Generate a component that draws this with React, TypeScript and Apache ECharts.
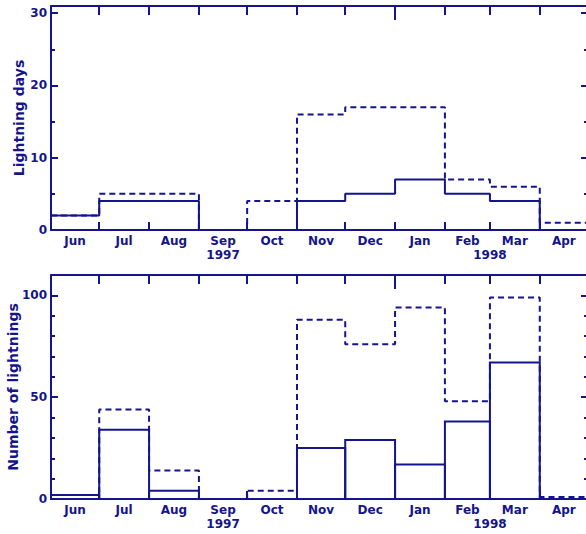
import React, { useEffect, useRef } from "react";
import * as echarts from "echarts";

// ---- data ----
const months = ["Jun", "Jul", "Aug", "Sep", "Oct", "Nov", "Dec", "Jan", "Feb", "Mar", "Apr"];
const monthDays = [30, 31, 31, 30, 31, 30, 31, 31, 28, 31, 30];
const daysSolid = [2, 4, 4, 0, 0, 4, 5, 7, 5, 4, 0];
const daysDashed = [2, 5, 5, 0, 4, 16, 17, 17, 7, 6, 1];
const countSolid = [2, 34, 4, 0, 0, 25, 29, 17, 38, 67, 0];
const countDashed = [2, 44, 14, 0, 4, 88, 76, 94, 48, 99, 1];
const yearNames = ["1997", "1998"];
const yearMonthIndex = [3.5, 9]; // Sep centre, start of Mar
const daysMajorTicks = [0, 10, 20, 30];
const daysMinorTicks = [5, 15, 25];
const countMajorTicks = [0, 50, 100];
const countMinorTicks = [10, 20, 30, 40, 60, 70, 80, 90];

const C = "#14148c";
const FONT = "DejaVu Sans";

const starts: number[] = [];
{
  let acc = 0;
  for (const d of monthDays) {
    starts.push(acc);
    acc += d;
  }
}
const total = monthDays.reduce((a, b) => a + b, 0);
const ends = starts.map((s, i) => s + monthDays[i]);
const centers = starts.map((s, i) => s + monthDays[i] / 2);
const boundaries = starts.slice(1);
const janStart = starts[months.indexOf("Jan")];
const yearPos = yearMonthIndex.map((m) => {
  const i = Math.floor(m);
  return starts[i] + (m - i) * monthDays[i];
});

const stepData = (vals: number[]) =>
  vals.map((v, i) => [starts[i], v]).concat([[total, vals[vals.length - 1]]]);

const textStyle = { color: C, fontFamily: FONT, fontWeight: "bold" as const, fontSize: 12 };

function xAxes(gridIndex: number) {
  const base = { type: "value", gridIndex, min: 0, max: total, splitLine: { show: false } };
  return [
    {
      ...base,
      position: "bottom",
      axisLine: { show: true, onZero: false, lineStyle: { color: C, width: 2 } },
      axisTick: { show: true, inside: true, length: 8, customValues: boundaries, lineStyle: { color: C, width: 2 } },
      axisLabel: {
        ...textStyle,
        margin: 5,
        customValues: centers,
        formatter: (v: number) => {
          const i = centers.findIndex((c) => Math.abs(c - v) < 0.01);
          return i >= 0 ? months[i] : "";
        },
      },
    },
    {
      ...base,
      position: "bottom",
      axisLine: { show: false, onZero: false },
      axisTick: { show: false },
      axisLabel: {
        ...textStyle,
        margin: 19,
        customValues: yearPos,
        formatter: (v: number) => {
          const i = yearPos.findIndex((c) => Math.abs(c - v) < 0.01);
          return i >= 0 ? yearNames[i] : "";
        },
      },
    },
    {
      ...base,
      position: "top",
      axisLine: { show: true, onZero: false, lineStyle: { color: C, width: 2 } },
      axisTick: {
        show: true,
        inside: true,
        length: 9,
        customValues: boundaries.filter((b) => b !== janStart),
        lineStyle: { color: C, width: 2 },
      },
      axisLabel: { show: false },
    },
    {
      ...base,
      position: "top",
      axisLine: { show: false, onZero: false },
      axisTick: { show: true, inside: true, length: 14, customValues: [janStart], lineStyle: { color: C, width: 2 } },
      axisLabel: { show: false },
    },
  ];
}

function yAxes(gridIndex: number, max: number, major: number[], minor: number[], name: string, nameGap: number) {
  const base = { type: "value", gridIndex, min: 0, max, splitLine: { show: false } };
  const mk = (position: string, ticks: number[], len: number, label: boolean, withName: boolean, line: boolean) => ({
    ...base,
    position,
    name: withName ? name : "",
    nameLocation: "middle",
    nameGap,
    nameMoveOverlap: false,
    nameTextStyle: { ...textStyle, fontSize: 14 },
    axisLine: { show: line, onZero: false, lineStyle: { color: C, width: 2 } },
    axisTick: { show: true, inside: true, length: len, customValues: ticks, lineStyle: { color: C, width: 2 } },
    axisLabel: label
      ? { ...textStyle, margin: 4, customValues: major }
      : { show: false },
  });
  return [
    mk("left", major, 7, true, true, true),
    mk("left", minor, 4, false, false, false),
    mk("right", major, 7, false, false, true),
    mk("right", minor, 4, false, false, false),
  ];
}

export default function App() {
  const ref = useRef<HTMLDivElement>(null);
  useEffect(() => {
    if (!ref.current) return;
    const chart = echarts.init(ref.current, null, { renderer: "svg" });
    const xa = [...xAxes(0), ...xAxes(1)];
    const ya = [
      ...yAxes(0, 31, daysMajorTicks, daysMinorTicks, "Lightning days", 25),
      ...yAxes(1, 110, countMajorTicks, countMinorTicks, "Number of lightnings", 31),
    ];
    const lineSeries = (xi: number, yi: number, vals: number[], dashed: boolean) => ({
      type: "line",
      xAxisIndex: xi,
      yAxisIndex: yi,
      step: "end",
      symbol: "none",
      data: stepData(vals),
      lineStyle: { color: C, width: 2, type: dashed ? [6, 4] : "solid" },
      silent: true,
    });
    const barData = countSolid.map((v, i) => [starts[i], ends[i], v]);
    chart.setOption({
      animation: false,
      backgroundColor: "#fff",
      grid: [
        { left: 51, top: 6, width: 537, height: 224, outerBoundsMode: "none", containLabel: false },
        { left: 51, top: 275, width: 537, height: 224, outerBoundsMode: "none", containLabel: false },
      ],
      xAxis: xa,
      yAxis: ya,
      series: [
        lineSeries(0, 0, daysDashed, true),
        lineSeries(0, 0, daysSolid, false),
        lineSeries(4, 4, countDashed, true),
        {
          type: "custom",
          xAxisIndex: 4,
          yAxisIndex: 4,
          data: barData,
          silent: true,
          renderItem: (params: any, api: any) => {
            const x0 = api.value(0);
            const x1 = api.value(1);
            const y = api.value(2);
            if (!(y > 0)) return { type: "group", children: [] };
            const p0 = api.coord([x0, y]);
            const p1 = api.coord([x1, 0]);
            return {
              type: "rect",
              shape: { x: p0[0], y: p0[1], width: p1[0] - p0[0], height: p1[1] - p0[1] },
              style: { fill: "none", stroke: C, lineWidth: 2 },
            };
          },
        },
      ],
    });
    return () => chart.dispose();
  }, []);
  return (
    <div
      ref={ref}
      style={{ position: "absolute", left: 0, top: 0, width: 586, height: 534, background: "#fff" }}
    />
  );
}
